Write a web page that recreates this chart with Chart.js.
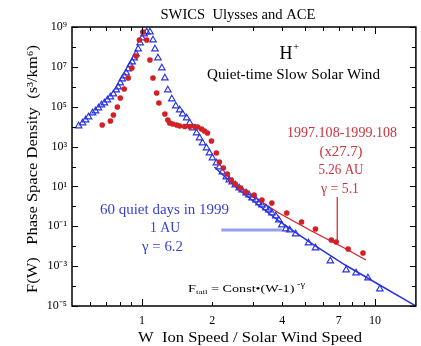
<!DOCTYPE html>
<html><head><meta charset="utf-8">
<script src="https://cdn.jsdelivr.net/npm/chart.js@4/dist/chart.umd.min.js"></script>
<style>html,body{margin:0;padding:0;background:#fff}</style>
</head><body>
<canvas id="c" width="421" height="346"></canvas>
<script>
// ---- data ----
const aceW = [0.534,0.5555,0.572,0.589,0.613,0.631,0.650,0.669,0.689,0.710,0.731,0.753,0.775,0.790,0.806,0.822,0.838,0.855,0.872,0.889,0.907,0.925,0.943,0.962,0.981,1.0,1.020,1.047,1.081,1.114,1.136,1.170,1.216,1.253,1.290,1.342,1.395,1.451,1.494,1.554,1.601,1.648,1.714,1.766,1.818,1.891,1.947,2.005,2.085,2.147,2.212,2.300,2.368,2.439,2.512,2.612,2.690,2.798,2.881,2.968,3.085,3.177,3.272,3.403,3.504,3.609,3.753,3.866,3.981,4.140,4.306,4.567,5.187,5.557,6.435,7.525,8.300,9.338,10.50];
const aceF = [1.08e4,1.52e4,2.16e4,3.05e4,4.84e4,6.1e4,8.6e4,1.22e5,1.54e5,2.17e5,3.07e5,4.35e5,6.9e5,9.76e5,1.55e6,2.46e6,3.48e6,4.92e6,7.8e6,1.24e7,1.75e7,2.78e7,4.42e7,7.87e7,1.57e8,2.81e8,4.45e8,5.6e8,5.6e8,2.23e8,7.87e7,2.78e7,8.77e6,2.76e6,6.9e5,2.44e5,1.09e5,6.84e4,4.31e4,2.72e4,1.52e4,8.55e3,4.8e3,2.69e3,1.51e3,849,476,267,150,94.4,53,29.8,21.1,16.7,11.8,8.35,6.63,4.69,3.72,2.63,2.09,1.48,1.17,0.828,0.658,0.465,0.329,0.207,0.116,0.0731,0.0652,0.0411,0.0145,0.00815,0.00182,6.41e-4,4.54e-4,2.55e-4,7.14e-5];

const ulyW = [0.674,0.731,0.753,0.783,0.806,0.838,0.872,0.904,0.943,0.974,1.007,1.047,1.081,1.114,1.155,1.181,1.253,1.290,1.315,1.355,1.409,1.451,1.524,1.601,1.681,1.731,1.800,1.854,1.909,1.986,2.085,2.147,2.234,2.323,2.415,2.512,2.638,2.798,3.027,3.272,3.609,4.181,4.843,5.557,6.498,6.823,7.676,8.889];
const ulyF = [1.21e4,1.92e4,3.85e4,9.68e4,2.74e5,7.74e5,2.76e6,8.77e6,3.51e7,2.23e8,5.6e8,2.23e8,2.21e7,2.76e6,4.88e5,1.54e5,4.31e4,2.16e4,1.52e4,1.36e4,1.21e4,1.08e4,1.02e4,1.02e4,1.02e4,9.6e3,7.62e3,6.05e3,4.8e3,1.91e3,476,168,84.2,42.1,21.1,13.3,8.35,5.26,3.72,2.09,1.48,0.465,0.164,0.0731,0.0205,0.0163,0.00726,0.00457];

const aceFitW = [2.045,2.612,3.866,5.343,7.455,10.3,15];
const aceFitF = [94.4,6.63,0.1845,0.0137,0.00114,1.27e-4,1e-5];
const ulyFitW = [2.368,2.881,3.866,5.343,7.455,9.156];
const ulyFitF = [21.1,4.18,0.465,0.0581,0.00769,0.00204];

const acePointerW = [2.19,3.98];
const acePointerF = [0.0652,0.0652];
const ulyPointerW = [6.89,6.89];
const ulyPointerF = [2.95,0.0183];

const xTickValues = [1,2,4,7,10];
const xMinorTicks = [0.6,0.7,0.8,0.9,1,2,3,4,5,6,7,8,9,10];
const yTickValues = [1e9,1e7,1e5,1e3,1e1,1e-1,1e-3,1e-5];
const yDecades = [1e-5,1e-4,1e-3,1e-2,1e-1,1,1e1,1e2,1e3,1e4,1e5,1e6,1e7,1e8,1e9];

const pts = (xs, ys) => xs.map((v, i) => ({x: v, y: ys[i]}));

const BLUE = 'rgb(40,50,225)';
const RED = 'rgb(212,32,36)';
const RED_TXT = 'rgb(205,50,60)';
const BLUE_TXT = 'rgb(55,65,215)';
const SERIF = '"Liberation Serif", "Times New Roman", serif';

const sup = {'-':'\u207B','0':'\u2070','1':'\u00B9','2':'\u00B2','3':'\u00B3','4':'\u2074','5':'\u2075','6':'\u2076','7':'\u2077','8':'\u2078','9':'\u2079'};

// draw text centred at (cx,cy), stretched horizontally to a target width
function fitText(ctx, t, cx, cy, size, target, rot) {
  ctx.save();
  ctx.font = size + 'px ' + SERIF;
  const w = ctx.measureText(t).width;
  ctx.translate(cx, cy);
  if (rot) ctx.rotate(rot);
  ctx.scale(target / w, 1);
  ctx.textAlign = 'center';
  ctx.textBaseline = 'middle';
  ctx.fillText(t, 0, 0);
  ctx.restore();
}

const decor = {
  id: 'decor',
  afterDatasetsDraw(chart) {
    const {ctx, chartArea: a, scales: {x, y}} = chart;
    ctx.save();
    const seg = (x1, y1, x2, y2) => { ctx.beginPath(); ctx.moveTo(x1, y1); ctx.lineTo(x2, y2); ctx.stroke(); };
    ctx.strokeStyle = '#000';
    ctx.lineWidth = 1;
    xMinorTicks.forEach(v => {
      const px = Math.round(x.getPixelForValue(v)) + 0.5;
      const len = (v === 1 || v === 10) ? 7 : 4;
      seg(px, a.bottom, px, a.bottom - len);
      seg(px, a.top, px, a.top + len);
    });
    yDecades.forEach(v => {
      const py = Math.round(y.getPixelForValue(v)) + 0.5;
      const e = Math.round(Math.log10(v));
      const len = (Math.abs(e) % 2 === 1) ? 6 : 4;
      seg(a.left, py, a.left + len, py);
      seg(a.right, py, a.right - len, py);
    });
    ctx.lineWidth = 1.5;
    ctx.strokeRect(a.left, a.top, a.right - a.left, a.bottom - a.top);

    ctx.fillStyle = '#000';
    fitText(ctx, 'SWICS  Ulysses and ACE', 238, 15, 14, 155);
    fitText(ctx, 'W  Ion Speed / Solar Wind Speed', 250, 338, 15, 224);
    fitText(ctx, 'F(W)   Phase Space Density  (s\u00B3/km\u2076)', 33, 169, 15, 248, -Math.PI / 2);

    // H+
    ctx.textAlign = 'center';
    ctx.textBaseline = 'middle';
    ctx.font = '18px ' + SERIF;
    ctx.fillText('H', 286, 54);
    ctx.font = '11px ' + SERIF;
    ctx.fillText('+', 296, 47);
    fitText(ctx, 'Quiet-time Slow Solar Wind', 293.5, 75, 14, 173);

    ctx.fillStyle = RED_TXT;
    fitText(ctx, '1997.108-1999.108', 342, 133, 14, 110);
    fitText(ctx, '(x27.7)', 341, 152, 14, 43);
    fitText(ctx, '5.26 AU', 341, 170, 14, 45);
    fitText(ctx, '\u03B3 = 5.1', 340, 189, 14, 38);

    ctx.fillStyle = BLUE_TXT;
    fitText(ctx, '60 quiet days in 1999', 164.5, 210, 14, 129);
    fitText(ctx, '1 AU', 165, 228, 14, 30);
    fitText(ctx, '\u03B3 = 6.2', 162.5, 247, 14, 41);

    // F_tail formula
    ctx.fillStyle = '#000';
    ctx.textAlign = 'left';
    ctx.textBaseline = 'middle';
    const parts = [['F', 11, 0], ['tail', 7, 3], [' = Const\u2022(W-1)', 11, 0], [' -\u03B3', 8, -4]];
    let total = 0;
    parts.forEach(p => { ctx.font = p[1] + 'px ' + SERIF; total += ctx.measureText(p[0]).width; });
    const s = 117 / total;
    ctx.save();
    ctx.translate(188, 289);
    ctx.scale(s, 1);
    let cx = 0;
    parts.forEach(p => { ctx.font = p[1] + 'px ' + SERIF; ctx.fillText(p[0], cx, p[2]); cx += ctx.measureText(p[0]).width; });
    ctx.restore();
    ctx.restore();
  }
};

new Chart(document.getElementById('c'), {
  type: 'scatter',
  data: {
    datasets: [
      {label: 'Ulysses 5.26 AU', data: pts(ulyW, ulyF), order: 0, pointStyle: 'circle', pointRadius: 2.8, pointBorderWidth: 0, backgroundColor: RED, borderColor: RED, showLine: false},
      {label: 'ACE 1 AU', data: pts(aceW, aceF), order: 1, pointStyle: 'triangle', pointRadius: 3.8, pointBorderWidth: 1.1, backgroundColor: 'rgba(255,255,255,0)', borderColor: BLUE, showLine: false},
      {label: 'Ulysses fit', data: pts(ulyFitW, ulyFitF), order: 2, showLine: true, pointRadius: 0, borderColor: RED, borderWidth: 1.3},
      {label: 'ACE fit', data: pts(aceFitW, aceFitF), order: 3, showLine: true, pointRadius: 0, borderColor: BLUE, borderWidth: 1.5},
      {label: 'ACE pointer', data: pts(acePointerW, acePointerF), order: 4, showLine: true, pointRadius: 0, borderColor: 'rgb(150,160,238)', borderWidth: 3},
      {label: 'Ulysses pointer', data: pts(ulyPointerW, ulyPointerF), order: 4, showLine: true, pointRadius: 0, borderColor: RED, borderWidth: 1.2}
    ]
  },
  options: {
    responsive: false,
    animation: false,
    devicePixelRatio: 1,
    layout: {padding: {left: 0, right: 3, top: 27, bottom: 0}},
    plugins: {legend: {display: false}, tooltip: {enabled: false}, title: {display: false}},
    scales: {
      x: {
        type: 'logarithmic', min: 0.5, max: 15, position: 'bottom',
        grid: {display: false, drawTicks: false}, border: {display: false},
        ticks: {autoSkip: false, maxRotation: 0, padding: 8, color: '#000', font: {family: SERIF, size: 12}, callback: v => String(v)},
        afterBuildTicks: s => { s.ticks = xTickValues.map(v => ({value: v})); },
        afterFit: s => { s.height = 40; }
      },
      y: {
        type: 'logarithmic', min: 1e-5, max: 1e9, position: 'left',
        grid: {display: false, drawTicks: false}, border: {display: false},
        ticks: {autoSkip: false, padding: 5, color: '#000', font: {family: SERIF, size: 12},
          callback: v => '10' + String(Math.round(Math.log10(v))).split('').map(c => sup[c]).join('')},
        afterBuildTicks: s => { s.ticks = yTickValues.map(v => ({value: v})); },
        afterFit: s => { s.width = 72; }
      }
    }
  },
  plugins: [decor]
});
</script>
</body></html>
